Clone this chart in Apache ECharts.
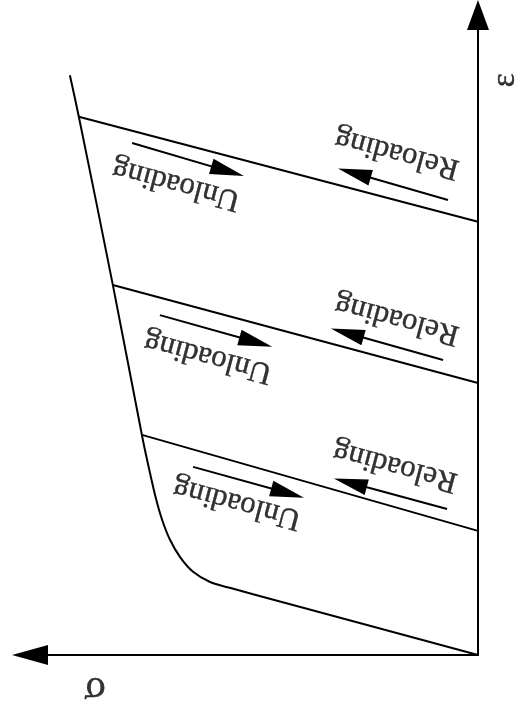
<!DOCTYPE html>
<html>
<head>
<meta charset="utf-8">
<script src="https://cdn.jsdelivr.net/npm/echarts/dist/echarts.min.js"></script>
<style>
html,body{margin:0;padding:0;background:#fff;}
#chart{width:515px;height:709px;}
</style>
</head>
<body>
<div id="chart"></div>
<script>
// sigma (x, grows to the left) / epsilon (y, grows up)
var curve = [[0,0],[50.2,9.5],[55.4,10.5],[59.8,11.4],[63.6,13.0],[66.5,15.3],[68.75,18.0],[70.5,21.1],[71.8,24.2],[73.2,28.4],[74.8,33.6],[81.5,57.8],[89.1,84.1],[91.1,90.6]];
var unloadLines = [
	[[89.1,84.1],[0,67.7]],
	[[81.5,57.8],[0,42.5]],
	[[75.0,34.4],[0,19.4]]
];
var unloadArrows = [
	[[77.2,80.0],[55.9,75.6]],
	[[71.0,53.1],[49.6,48.9]],
	[[63.6,29.4],[42.5,25.3]]
];
var reloadArrows = [
	[[6.7,71.1],[27.6,75.3]],
	[[7.8,46.1],[29.2,50.3]],
	[[6.9,22.8],[28.5,26.9]]
];
var unloadText = [[67.4,73.6],[60.3,46.6],[53.8,23.75]];
var reloadText = [[18.1,78.4],[18.1,52.5],[18.5,29.5]];
var sigmaPos = [[85.5,-5.3]];
var epsPos = [[-6.0,89.8]];

var arrowHead = 'path://M-17,0 M17,0 M0,0 L8,34 L-8,34 Z';
var serif = '"Liberation Serif", "DejaVu Serif", serif';

var chart = echarts.init(document.getElementById('chart'));

var series = [];
series.push({
	type:'line',
	data:curve,
	smooth:0.35,
	symbol:'none',
	lineStyle:{color:'#000',width:2}
});
unloadLines.forEach(function(l){
	series.push({
		type:'line',
		data:l,
		symbol:'none',
		lineStyle:{color:'#000',width:2}
	});
});
series.push({
	type:'lines',
	coordinateSystem:'cartesian2d',
	symbol:['none',arrowHead],
	symbolSize:34,
	lineStyle:{color:'#000',width:2,opacity:1},
	data:unloadArrows.concat(reloadArrows).map(function(a){ return {coords:a}; })
});
function textSeries(pts, txt, rot, size){
	return {
		type:'scatter',
		data:pts,
		clip:false,
		symbolSize:1,
		itemStyle:{color:'transparent'},
		label:{
			show:true,
			position:'inside',
			formatter:txt,
			rotate:rot,
			color:'#000',
			textBorderColor:'#000',
			textBorderWidth:0.4,
			fontFamily:serif,
			fontSize:size,
			align:'center',
			verticalAlign:'middle'
		}
	};
}
series.push(textSeries(unloadText,'Unloading',165,31));
series.push(textSeries(reloadText,'Reloading',165,31));
series.push(textSeries(sigmaPos,'σ',180,40));
series.push(textSeries(epsPos,'ε',90,33));

option = {
	animation:false,
	grid:{left:30,right:37,top:15,bottom:54},
	xAxis:{
		type:'value',
		min:0,
		max:100,
		inverse:true,
		axisLine:{
			lineStyle:{color:'#000',width:2},
			symbol:['triangle','none'],
			symbolSize:[20,36]
		},
		axisTick:{show:false},
		axisLabel:{show:false},
		splitLine:{show:false}
	},
	yAxis:{
		type:'value',
		min:0,
		max:100,
		axisLine:{
			lineStyle:{color:'#000',width:2},
			symbol:['none','triangle'],
			symbolSize:[22,30]
		},
		axisTick:{show:false},
		axisLabel:{show:false},
		splitLine:{show:false}
	},
	series:series
};
chart.setOption(option);
</script>
</body>
</html>
